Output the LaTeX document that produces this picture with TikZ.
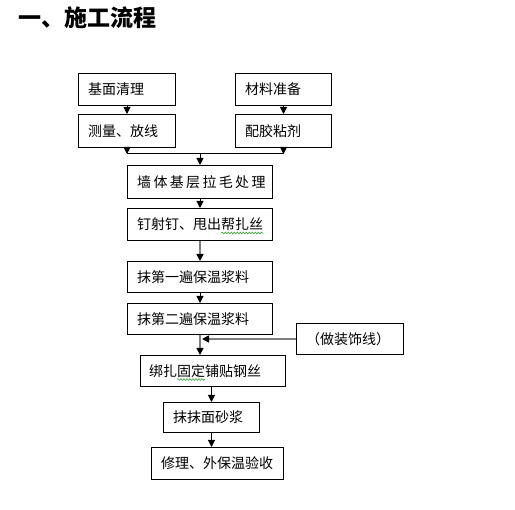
\documentclass[tikz,border=0pt]{standalone}
\usepackage{fontspec}
\newfontfamily\cjk{Noto Sans CJK SC}
\usetikzlibrary{arrows.meta,decorations.pathmorphing}
\definecolor{linegray}{RGB}{125,125,125}
\definecolor{spellgreen}{RGB}{60,160,60}
\tikzset{
  box/.style={draw=black, line width=1pt, minimum height=#1, inner sep=0pt,
              font=\cjk\fontsize{14}{16}\selectfont, anchor=north west},
  lbl/.style={font=\cjk\fontsize{14}{16}\selectfont, anchor=west, inner sep=0pt},
  arr/.style={line width=1pt, -{Triangle[width=7pt,length=7pt,black]}},
  garr/.style={draw=linegray, line width=1.6pt, -{Triangle[width=7pt,length=7pt,black]}},
  wavy/.style={draw=spellgreen, line width=0.6pt, decorate,
               decoration={snake, amplitude=0.9pt, segment length=3pt}}
}
\begin{document}
\begin{tikzpicture}[x=1pt,y=-1pt]
\useasboundingbox[fill=white] (0,0) rectangle (515,510);

\node[font=\cjk\bfseries\fontsize{23}{25}\selectfont, anchor=west, inner sep=0pt] (title) at (18,18) {一、施工流程};

% boxes: (left,top), width, height
\node[box=32pt, minimum width=97pt] (a) at (78,73) {};
\node[lbl] at ([xshift=10pt]a.west) {基面清理};
\node[box=32pt, minimum width=96pt] (b) at (235,73) {};
\node[lbl] at ([xshift=10pt]b.west) {材料准备};
\node[box=33pt, minimum width=97pt] (c) at (78,114) {};
\node[lbl] at ([xshift=10pt]c.west) {测量、放线};
\node[box=33pt, minimum width=96pt] (d) at (235,114) {};
\node[lbl] at ([xshift=10pt]d.west) {配胶粘剂};
\node[box=33pt, minimum width=145pt] (e) at (127,165) {};
\node[lbl] at ([xshift=10pt]e.west) {墙\,体\,基\,层\,拉\,毛\,处\,理};
\node[box=32pt, minimum width=145pt] (f) at (127,208) {};
\node[lbl] (ft) at ([xshift=10pt]f.west) {钉射钉、甩出帮扎丝};
\node[box=31pt, minimum width=145pt] (g) at (127,261) {};
\node[lbl] at ([xshift=10pt]g.west) {抹第一遍保温浆料};
\node[box=31pt, minimum width=145pt] (h) at (127,303) {};
\node[lbl] at ([xshift=10pt]h.west) {抹第二遍保温浆料};
\node[box=31pt, minimum width=107pt] (i) at (296,323) {};
\node[lbl] at ([xshift=10pt]i.west) {（做装饰线）};
\node[box=31pt, minimum width=145pt] (j) at (140,355) {};
\node[lbl] (jt) at ([xshift=9pt]j.west) {绑扎固定铺贴钢丝};
\node[box=30pt, minimum width=96pt] (k) at (163,402) {};
\node[lbl] at ([xshift=10pt]k.west) {抹抹面砂浆};
\node[box=32pt, minimum width=132pt] (l) at (151,447) {};
\node[lbl] at ([xshift=10pt]l.west) {修理、外保温验收};

% spell-check wavy underlines
\draw[wavy] ([xshift=-42pt,yshift=-8.5pt]ft.east) -- ([yshift=-8.5pt]ft.east);
\draw[wavy] ([xshift=28pt,yshift=-8.5pt]jt.west) -- ([xshift=56pt,yshift=-8.5pt]jt.west);

% connectors
\coordinate (m) at (200,154);
\draw[arr] (a.south) -- (c.north);
\draw[arr] (b.south) -- (d.north);
\draw[arr] (c.south) -- (c.south |- m);
\draw[arr] (d.south) -- (d.south |- m);
\draw[line width=1pt] (c.south |- m) -- (d.south |- m);
\draw[arr] (m) -- (m |- e.north);
\draw[arr] (e.south) -- (f.north);
\draw[garr] (f.south) -- (g.north);
\draw[arr] (g.south) -- (h.north);
\coordinate (jn) at ([xshift=-13pt]j.north);
\draw[garr] (jn |- h.south) -- (jn);
\draw[garr] (i.west) -- ([xshift=2pt]jn |- i.west);
\draw[arr] (k.north |- j.south) -- (k.north);
\draw[arr] (k.north |- k.south) -- (k.north |- l.north);
\end{tikzpicture}
\end{document}
